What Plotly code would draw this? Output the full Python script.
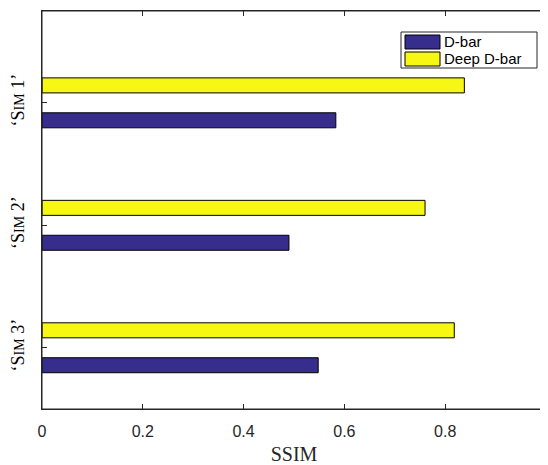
import plotly.graph_objects as go

categories = ["SIM 1", "SIM 2", "SIM 3"]
cat_pos = [3, 2, 1]
dbar = [0.583, 0.490, 0.548]
deep_dbar = [0.838, 0.760, 0.818]
x_ticks = [0, 0.2, 0.4, 0.6, 0.8, 1]
x_tick_labels = ["0", "0.2", "0.4", "0.6", "0.8", "1"]
series_names = ["D-bar", "Deep D-bar"]
colors = ["#362d8c", "#f7f714"]

def smallcaps(label):
    word, num = label.split(" ")
    return "‘" + word[0] + "<span style='font-size:14px'>" + word[1:] + "</span> " + num + "’"

# page body has an 8px margin; the figure is sized to fit the rest of the 548x465 window.
OFF = 8
WIN_W, WIN_H = 548, 465
W, H = WIN_W - OFF, WIN_H - OFF
win_left, win_right, win_top, win_bottom = 42, 546, 11, 409
pl = win_left - OFF
pt = win_top - OFF
pr = W - (win_right - OFF)
pb = H - (win_bottom - OFF)

fig = go.Figure()
fig.add_trace(go.Bar(y=cat_pos, x=dbar, orientation="h", name=series_names[0],
                     marker=dict(color=colors[0], line=dict(color="black", width=1))))
fig.add_trace(go.Bar(y=cat_pos, x=deep_dbar, orientation="h", name=series_names[1],
                     marker=dict(color=colors[1], line=dict(color="black", width=1))))

axis_color = "#262626"
fig.update_layout(
    width=W, height=H,
    margin=dict(l=pl, r=pr, t=pt, b=pb, autoexpand=False),
    paper_bgcolor="white", plot_bgcolor="white",
    barmode="group", bargap=0.43, bargroupgap=0.57,
    showlegend=False,
    xaxis=dict(range=[0, 1], tickvals=x_ticks, ticktext=x_tick_labels, automargin=False,
               ticklabeloverflow="allow", ticklabelstandoff=8,
               ticks="inside", ticklen=5, tickcolor=axis_color, mirror="allticks",
               showline=True, linecolor=axis_color, linewidth=1, showgrid=False, zeroline=False,
               tickfont=dict(family="Liberation Sans, Arial", size=16, color="#262626"),
               title=dict(text="SSIM", font=dict(family="Liberation Serif, Times New Roman", size=20, color="#262626"),
                          standoff=8)),
    yaxis=dict(range=[0.5, 3.75], tickvals=cat_pos, ticktext=[smallcaps(c) for c in categories],
               automargin=False, ticklabelstandoff=10,
               tickangle=-90, ticks="inside", ticklen=5, tickcolor=axis_color, mirror="allticks",
               showline=True, linecolor=axis_color, linewidth=1, showgrid=False, zeroline=False,
               tickfont=dict(family="Liberation Serif, Times New Roman", size=18, color="black")),
)

# axes box
fig.add_shape(type="rect", xref="paper", yref="paper", x0=0, x1=1, y0=0, y1=1,
              line=dict(color=axis_color, width=1), layer="above")

# custom legend box (MATLAB style), window pixel positions
pw, ph = W - pl - pr, H - pt - pb
def px(x): return (x - OFF - pl) / pw
def py(y): return 1 - (y - OFF - pt) / ph

lx0, lx1, ly0, ly1 = 401, 537, 32, 68
fig.add_shape(type="rect", xref="paper", yref="paper", x0=px(lx0), x1=px(lx1), y0=py(ly1), y1=py(ly0),
              line=dict(color="#262626", width=1), fillcolor="white", layer="above")
for i, (name, col) in enumerate(zip(series_names, colors)):
    yc = 42 + i * 17
    fig.add_shape(type="rect", xref="paper", yref="paper", x0=px(405), x1=px(440),
                  y0=py(yc + 7), y1=py(yc - 7), line=dict(color="black", width=1), fillcolor=col, layer="above")
    fig.add_annotation(xref="paper", yref="paper", x=px(442), y=py(yc), text=name, showarrow=False,
                       xanchor="left", yanchor="middle",
                       font=dict(family="Liberation Sans, Arial", size=15, color="black"))

fig.write_html("out.html")
